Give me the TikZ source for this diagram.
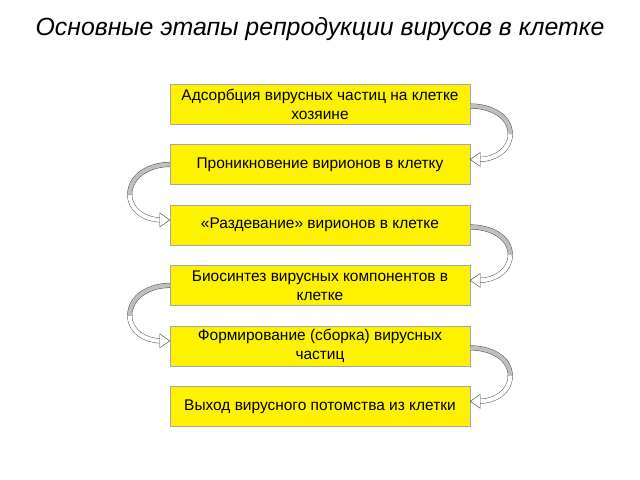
\documentclass[tikz,border=0pt]{standalone}
\usepackage{fontspec}
\setmainfont{Liberation Sans}
\usetikzlibrary{positioning,calc}

\tikzset{
  heading/.style={font=\itshape\fontsize{21.2}{25}\selectfont},
  stage/.style={draw=gray!70, fill=yellow, minimum width=9cm, minimum height=1.2cm,
    align=center, inner sep=1pt, font=\fontsize{13.2}{16.2}\selectfont},
  ribbon/.style={draw=gray!60!black, line width=0.4pt, double distance=3.5pt},
  arrowtip/.style={draw=gray!60!black, fill=white, line width=0.4pt, line join=miter},
}

% curved arrow on the right side, from #1 down to #2
\newcommand{\rightarc}[2]{%
  \coordinate (#1bend) at ($(#1.east)!.5!(#2.east)+(40,0)$);
  \draw[ribbon, double=gray!50] ($(#1.east)+(0,-2)$) to[out=0, in=90] (#1bend);
  \draw[ribbon, double=white] (#1bend) to[out=-90, in=0] ($(#2.east)+(9,5)$);
  \draw[arrowtip] ($(#2.east)+(0,5)$) -- ($(#2.east)+(10,12)$) -- ($(#2.east)+(10,-2)$) -- cycle;
}
% curved arrow on the left side, from #1 down to #2
\newcommand{\leftarc}[2]{%
  \coordinate (#1bend) at ($(#1.west)!.5!(#2.west)+(-40,0)$);
  \draw[ribbon, double=gray!50] (#1.west) to[out=180, in=90] (#1bend);
  \draw[ribbon, double=white] (#1bend) to[out=-90, in=180] ($(#2.west)+(-9,5)$);
  \draw[arrowtip] ($(#2.west)+(0,5)$) -- ($(#2.west)+(-10,12)$) -- ($(#2.west)+(-10,-2)$) -- cycle;
}

\begin{document}
\begin{tikzpicture}[x=0.03cm, y=0.03cm, node distance=0.6cm]

    \useasboundingbox (0,0) rectangle (640,480);

    % Define nodes
    \node[heading]              (head)    at (320,451) {Основные этапы репродукции вирусов в клетке};

    \node[stage]                (adsorb)  at (320,376) {Адсорбция вирусных частиц на клетке\\хозяине};
    \node[stage, below=of adsorb] (penetr)  {Проникновение вирионов в клетку};
    \node[stage, below=of penetr] (uncoat)  {«Раздевание» вирионов в клетке};
    \node[stage, below=of uncoat] (synth)   {Биосинтез вирусных компонентов в\\клетке};
    \node[stage, below=of synth]  (assemb)  {Формирование (сборка) вирусных\\частиц};
    \node[stage, below=of assemb] (release) {Выход вирусного потомства из клетки};

    % Connect the nodes
    \rightarc{adsorb}{penetr}
    \leftarc{penetr}{uncoat}
    \rightarc{uncoat}{synth}
    \leftarc{synth}{assemb}
    \rightarc{assemb}{release}

\end{tikzpicture}
\end{document}
